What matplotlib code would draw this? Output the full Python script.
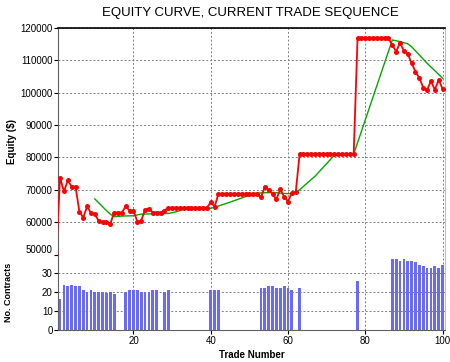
import matplotlib.pyplot as plt
import numpy as np

# === DATA ===

trades = np.arange(0, 101)
equity = np.array([
    50000,
    73800, 69500, 72900, 71000, 71000, 63300, 61400, 64900, 62800, 62500,
    60400, 60000, 60100, 59500, 63000, 63000, 63000, 64900, 63600, 63600,
    60200, 60500, 63800, 64200, 63000, 63000, 63000, 63600, 64500, 64500,
    64500, 64500, 64500, 64500, 64500, 64500, 64500, 64500, 64500, 66200,
    64800, 68800, 68800, 68800, 68800, 68800, 68800, 68800, 68800, 68800,
    68800, 68800, 67700, 70900, 70000, 68700, 67100, 70200, 67900, 66400,
    69100, 69200, 81000, 81000, 81000, 81000, 81000, 81000, 81000, 81000,
    81000, 81000, 81000, 81000, 81000, 81000, 81000, 116800, 116800, 116800,
    116800, 116800, 116800, 116800, 116800, 116800, 114700, 112700, 115500, 112900,
    112000, 109100, 106500, 104500, 101600, 100900, 103600, 100900, 104000, 101200,
])

ma_trades = [10, 11, 12, 13, 14, 15, 17, 20, 22, 25, 29, 31, 33, 40, 42, 45,
             49, 52, 56, 60, 62, 67, 72, 77, 87, 89, 91, 92, 96, 100]
ma_equity = [67200, 66000, 64800, 63600, 62500, 61700, 61900, 62000, 62500, 62600,
             62700, 63200, 64000, 64300, 65000, 66200, 67900, 69000, 69200, 68800,
             69000, 74200, 80700, 81000, 116300, 115800, 115100, 114200, 109100, 104500]

bar_trades = [1, 2, 3, 4, 5, 6, 7, 8, 9, 10, 11, 12, 13, 14, 15,
              18, 19, 20, 21, 22, 23, 24, 25, 26, 28, 29, 40, 41, 42,
              53, 54, 55, 56, 57, 58, 59, 60, 61, 63, 78,
              87, 88, 89, 90, 91, 92, 93, 94, 95, 96, 97, 98, 99, 100]
contracts = [16.5, 24, 23.5, 24, 23.3, 23.3, 21, 20, 21, 20, 20, 20, 19.5, 20, 19,
             20, 21, 21, 21, 20, 20, 20, 21, 21, 20, 21, 21, 21, 21,
             22.3, 22.3, 23.2, 23.2, 22.3, 22.3, 23.2, 22.3, 21, 22.3, 26,
             37.7, 37.7, 36.8, 37.7, 36.8, 36.8, 35.9, 34.7, 33.8, 33, 33, 33.8, 33, 34.3]

# === FIGURE ===

plt.rcParams['font.family'] = ['Liberation Sans', 'DejaVu Sans']
fig = plt.figure(figsize=(4.5, 3.62), dpi=100)
ax1 = fig.add_axes([0.1296, 0.2967, 0.8594, 0.626])
ax2 = fig.add_axes([0.1296, 0.0884, 0.8594, 0.2083], sharex=ax1)

# equity curve + moving average
ax1.plot(trades, equity, color='#ff0000', linewidth=1.3, marker='o',
         markersize=3.6, markeredgewidth=0, zorder=3)
ax1.plot(ma_trades, ma_equity, color='#00a800', linewidth=1.0, zorder=2)

ax1.set_xlim(0.55, 100.65)
ax1.set_ylim(50000, 120000)
ax1.set_yticks(np.arange(50000, 120001, 10000))
ax1.set_yticklabels([str(v) for v in range(50000, 120001, 10000)], fontsize=7)
ax1.yaxis.get_majorticklabels()[0].set_va('bottom')
ax1.tick_params(axis='x', length=0, labelbottom=False)
ax1.tick_params(axis='y', length=3, width=0.8, pad=1)
ax1.set_ylabel("Equity ($)", fontsize=7, fontweight='bold')
ax1.yaxis.set_label_coords(-0.108, 0.5)

# contracts bars
ax2.bar(bar_trades, contracts, width=0.72, color='#6a6af8', edgecolor='none')
ax2.set_ylim(0, 40)
ax2.set_yticks([0, 10, 20, 30])
ax2.set_xticks([20, 40, 60, 80, 100])
ax2.tick_params(labelsize=7, length=3, width=0.8, pad=1)
ax2.set_ylabel("No. Contracts", fontsize=6.5, fontweight='bold')
ax2.yaxis.set_label_coords(-0.118, 0.5)
ax2.set_xlabel("Trade Number", fontsize=7, fontweight='bold', labelpad=3)

for ax in (ax1, ax2):
    ax.set_axisbelow(True)
    ax.grid(True, linestyle=(0, (2, 2)), linewidth=0.7, color='#808080')
    ax.spines['left'].set_color('#606060')
    ax.spines['right'].set_color('#c0c0c0')
    ax.spines['bottom'].set_color('#606060')

ax1.yaxis.get_gridlines()[0].set_visible(False)
ax1.spines['bottom'].set_visible(False)
ax1.spines['top'].set_color('black')
ax1.spines['top'].set_linewidth(1.2)
ax2.spines['top'].set_visible(False)

fig.text(0.557, 0.963, "EQUITY CURVE, CURRENT TRADE SEQUENCE",
         ha='center', va='center', fontsize=9.5)

fig.savefig('out.png', dpi=100)
